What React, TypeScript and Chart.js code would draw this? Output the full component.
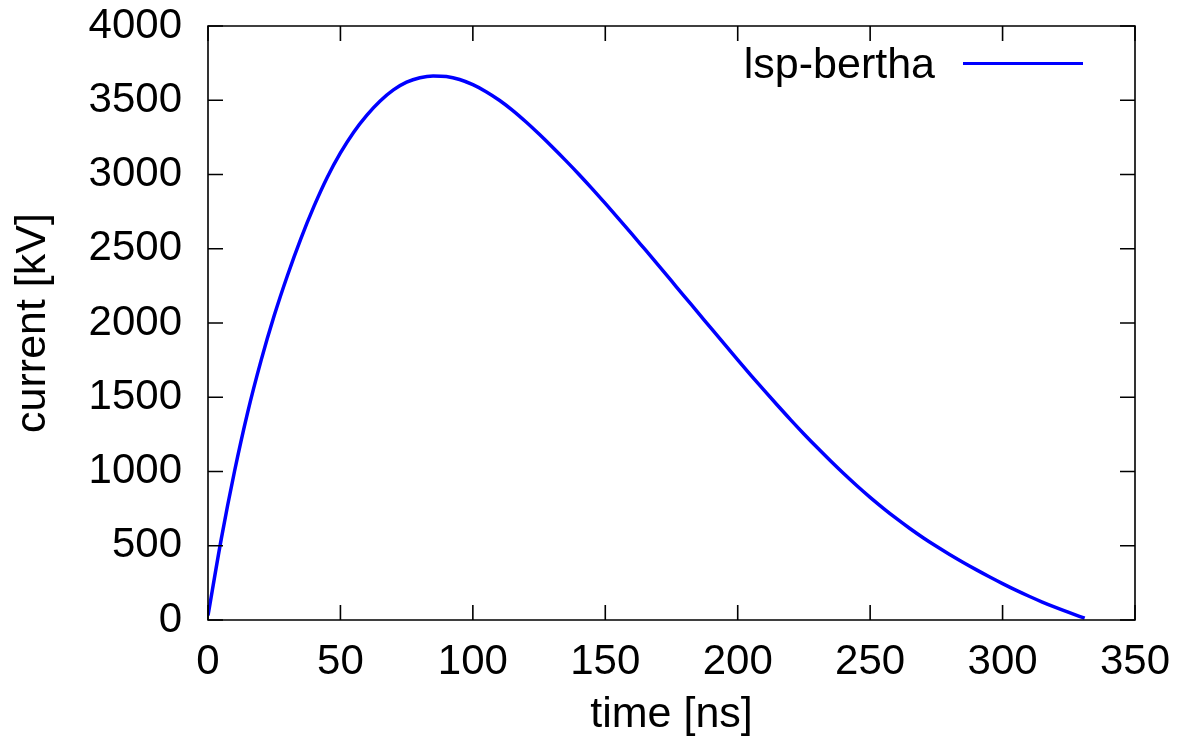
import React, { useEffect, useRef } from "react";
import { Chart, registerables } from "chart.js";

Chart.register(...registerables);

const timeNs = [0, 5, 10, 15, 20, 25, 30, 35, 40, 45, 50, 55, 60, 65, 70, 75, 80, 85, 90, 95, 100, 105, 110, 115, 120, 125, 130, 135, 140, 145, 150, 155, 160, 165, 170, 175, 180, 185, 190, 195, 200, 205, 210, 215, 220, 225, 230, 235, 240, 245, 250, 255, 260, 265, 270, 275, 280, 285, 290, 295, 300, 305, 310, 315, 320, 325, 331];
const currentKV = [30, 545, 1000, 1400, 1745, 2050, 2320, 2565, 2785, 2980, 3145, 3285, 3400, 3495, 3570, 3622, 3652, 3664, 3660, 3640, 3605, 3558, 3500, 3432, 3355, 3272, 3185, 3095, 3002, 2905, 2805, 2703, 2600, 2495, 2390, 2283, 2176, 2070, 1963, 1857, 1752, 1648, 1546, 1446, 1348, 1253, 1161, 1072, 986, 904, 826, 752, 682, 616, 554, 496, 441, 389, 339, 291, 245, 201, 160, 121, 85, 51, 12];
const seriesLabel = "lsp-bertha";
const xTitle = "time [ns]";
const yTitle = "current [kV]";

const FONT = "'Liberation Sans', Arial, sans-serif";

const framePlugin = {
  id: "gnuplotFrame",
  afterDatasetsDraw(chart: any) {
    const { ctx, chartArea: a, scales } = chart;
    const L = 15;
    ctx.save();
    ctx.strokeStyle = "#000";
    ctx.lineWidth = 1.6;
    ctx.beginPath();
    ctx.rect(a.left, a.top, a.right - a.left, a.bottom - a.top);
    ctx.stroke();
    ctx.beginPath();
    scales.x.ticks.forEach((t: any) => {
      const px = scales.x.getPixelForValue(t.value);
      ctx.moveTo(px, a.bottom);
      ctx.lineTo(px, a.bottom - L);
      ctx.moveTo(px, a.top);
      ctx.lineTo(px, a.top + L);
    });
    scales.y.ticks.forEach((t: any) => {
      const py = scales.y.getPixelForValue(t.value);
      ctx.moveTo(a.left, py);
      ctx.lineTo(a.left + L, py);
      ctx.moveTo(a.right, py);
      ctx.lineTo(a.right - L, py);
    });
    ctx.stroke();
    // legend (gnuplot style: text then sample line)
    const ds = chart.data.datasets[0];
    ctx.font = `43px ${FONT}`;
    ctx.fillStyle = "#000";
    ctx.textAlign = "right";
    ctx.textBaseline = "alphabetic";
    ctx.fillText(ds.label, a.right - 200, a.top + 52);
    ctx.strokeStyle = ds.borderColor;
    ctx.lineWidth = 2.8;
    ctx.beginPath();
    ctx.moveTo(a.right - 172, a.top + 37.5);
    ctx.lineTo(a.right - 52, a.top + 37.5);
    ctx.stroke();
    ctx.restore();
  },
};

export default function App() {
  const ref = useRef<HTMLCanvasElement>(null);
  useEffect(() => {
    if (!ref.current) return;
    const chart = new Chart(ref.current, {
      type: "line",
      data: {
        datasets: [
          {
            label: seriesLabel,
            data: timeNs.map((t, i) => ({ x: t, y: currentKV[i] })),
            borderColor: "#0000ff",
            borderWidth: 3.5,
            pointRadius: 0,
            cubicInterpolationMode: "monotone",
            fill: false,
          },
        ],
      },
      options: {
        animation: false,
        responsive: false,
        layout: { padding: { top: 26, right: 44, left: 0, bottom: 0 } },
        plugins: { legend: { display: false }, tooltip: { enabled: false } },
        scales: {
          x: {
            type: "linear",
            min: 0,
            max: 350,
            grid: { display: false, drawTicks: false },
            border: { display: false },
            ticks: { stepSize: 50, color: "#000", font: { family: FONT, size: 42 }, padding: 17, maxRotation: 0, callback: (v: any) => String(v) },
            title: { display: true, text: xTitle, color: "#000", font: { family: FONT, size: 43 }, padding: { top: 0, bottom: 12 } },
            afterFit: (s: any) => { s.height = 133; s.paddingLeft = 0; s.paddingRight = 0; },
          },
          y: {
            type: "linear",
            min: 0,
            max: 4000,
            grid: { display: false, drawTicks: false },
            border: { display: false },
            ticks: { stepSize: 500, color: "#000", font: { family: FONT, size: 42 }, padding: 26, callback: (v: any) => String(v) },
            title: { display: true, text: yTitle, color: "#000", font: { family: FONT, size: 43 }, padding: { top: 7, bottom: 0 } },
            afterFit: (s: any) => { s.width = 208; s.paddingTop = 0; s.paddingBottom = 0; },
          },
        },
      },
      plugins: [framePlugin],
    });
    return () => chart.destroy();
  }, []);
  return (
    <div style={{ position: "fixed", left: 0, top: 0, width: 1179, height: 753, background: "#fff" }}>
      <canvas ref={ref} width={1179} height={753} style={{ width: 1179, height: 753 }} />
    </div>
  );
}
